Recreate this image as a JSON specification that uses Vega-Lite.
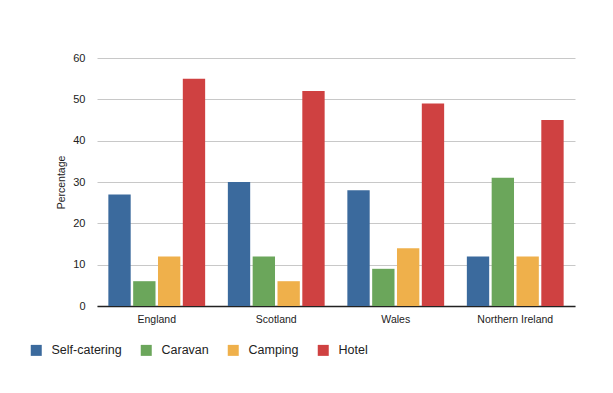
{
  "$schema": "https://vega.github.io/schema/vega-lite/v6.json",
  "width": 478,
  "height": 248,
  "autosize": "none",
  "padding": {"left": 97, "top": 58, "right": 38, "bottom": 87},
  "background": "white",
  "data": {
    "values": [
      {"country": "England", "type": "Self-catering", "value": 27},
      {"country": "England", "type": "Caravan", "value": 6},
      {"country": "England", "type": "Camping", "value": 12},
      {"country": "England", "type": "Hotel", "value": 55},
      {"country": "Scotland", "type": "Self-catering", "value": 30},
      {"country": "Scotland", "type": "Caravan", "value": 12},
      {"country": "Scotland", "type": "Camping", "value": 6},
      {"country": "Scotland", "type": "Hotel", "value": 52},
      {"country": "Wales", "type": "Self-catering", "value": 28},
      {"country": "Wales", "type": "Caravan", "value": 9},
      {"country": "Wales", "type": "Camping", "value": 14},
      {"country": "Wales", "type": "Hotel", "value": 49},
      {"country": "Northern Ireland", "type": "Self-catering", "value": 12},
      {"country": "Northern Ireland", "type": "Caravan", "value": 31},
      {"country": "Northern Ireland", "type": "Camping", "value": 12},
      {"country": "Northern Ireland", "type": "Hotel", "value": 45}
    ]
  },
  "mark": {"type": "bar"},
  "encoding": {
    "x": {
      "field": "country",
      "type": "nominal",
      "sort": ["England", "Scotland", "Wales", "Northern Ireland"],
      "scale": {"paddingInner": 0.19, "paddingOuter": 0.095},
      "axis": {
        "title": null,
        "labelAngle": 0,
        "ticks": false,
        "domainColor": "#222222",
        "domainWidth": 1.5,
        "labelPadding": 8,
        "labelFont": "Liberation Sans",
        "labelFontSize": 10.5,
        "labelColor": "#222222",
        "grid": false
      }
    },
    "xOffset": {
      "field": "type",
      "type": "nominal",
      "sort": ["Self-catering", "Caravan", "Camping", "Hotel"],
      "scale": {"paddingInner": 0.1}
    },
    "y": {
      "field": "value",
      "type": "quantitative",
      "scale": {"domain": [0, 60]},
      "axis": {
        "title": "Percentage",
        "titleFont": "Liberation Sans",
        "titleFontSize": 10.5,
        "titleFontWeight": "normal",
        "titleColor": "#222222",
        "titlePadding": 6,
        "values": [0, 10, 20, 30, 40, 50, 60],
        "domain": false,
        "ticks": false,
        "labelPadding": 12,
        "labelFont": "Liberation Sans",
        "labelFontSize": 11,
        "labelColor": "#222222",
        "gridColor": "#c8c8c8",
        "gridWidth": 1
      }
    },
    "color": {
      "field": "type",
      "type": "nominal",
      "sort": ["Self-catering", "Caravan", "Camping", "Hotel"],
      "scale": {
        "domain": ["Self-catering", "Caravan", "Camping", "Hotel"],
        "range": ["#3b6a9d", "#6ba65b", "#efb04b", "#cf4141"]
      },
      "legend": {
        "title": null,
        "orient": "none",
        "direction": "horizontal",
        "legendX": -67,
        "legendY": 286,
        "symbolType": "square",
        "symbolSize": 121,
        "symbolStrokeWidth": 0,
        "symbolOpacity": 1,
        "labelFont": "Liberation Sans",
        "labelFontSize": 12.5,
        "labelColor": "#222222",
        "labelOffset": 9,
        "columnPadding": 18
      }
    }
  },
  "config": {"view": {"stroke": null}}
}
